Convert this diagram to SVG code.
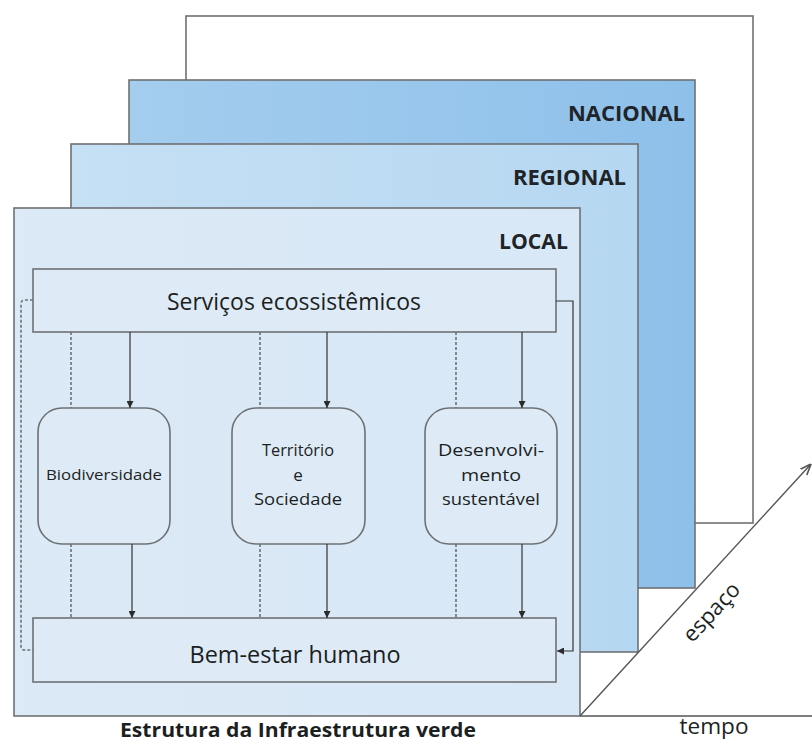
<svg xmlns="http://www.w3.org/2000/svg" width="812" height="744" viewBox="0 0 812 744">
<defs>
<linearGradient id="gNac" x1="0" y1="0" x2="1" y2="0"><stop offset="0" stop-color="#a4cdee"/><stop offset="1" stop-color="#8ec0ea"/></linearGradient>
<linearGradient id="gReg" x1="0" y1="0" x2="1" y2="0"><stop offset="0" stop-color="#c6e0f4"/><stop offset="1" stop-color="#b6d7f1"/></linearGradient>
<linearGradient id="gLoc" x1="0" y1="0" x2="1" y2="0"><stop offset="0" stop-color="#dce9f6"/><stop offset="1" stop-color="#d8e8f7"/></linearGradient>
<marker id="ah" viewBox="0 0 10 10" refX="10" refY="5" markerWidth="7" markerHeight="7" orient="auto" markerUnits="userSpaceOnUse"><path d="M0,0 L10,5 L0,10 z" fill="#2b2b2b"/></marker>
<marker id="ah2" viewBox="0 0 10 10" refX="10" refY="5" markerWidth="11" markerHeight="11" orient="auto" markerUnits="userSpaceOnUse"><path d="M0,1 L10,5 L0,9" fill="none" stroke="#555" stroke-width="1.5"/></marker>
</defs>
<style>
.lvl{stroke:#6e7174;stroke-width:1.6}
.box{fill:#deebf7;stroke:#6e7174;stroke-width:1.6}
.t{font-family:"Open Sans","DejaVu Sans",sans-serif;fill:#1c1f22}
.lab{font-family:"Open Sans","DejaVu Sans",sans-serif;font-weight:bold;font-size:22px;fill:#1f2428;text-anchor:end}
.sol{stroke:#333;stroke-width:1.2;fill:none;marker-end:url(#ah)}
.dot{stroke:#6e7174;stroke-width:1.6;stroke-dasharray:3 2;fill:none}
.ax{stroke:#555;stroke-width:1.4;fill:none}
</style>
<rect width="812" height="744" fill="#ffffff"/>
<g id="level-back"><rect x="186" y="16" width="567" height="507" fill="#ffffff" class="lvl"/></g>
<g id="level-nacional"><rect x="129" y="80" width="566" height="508" fill="url(#gNac)" class="lvl"/><text class="lab" x="685" y="121" textLength="117" lengthAdjust="spacingAndGlyphs">NACIONAL</text></g>
<g id="level-regional"><rect x="71" y="144" width="567" height="508" fill="url(#gReg)" class="lvl"/><text class="lab" x="626" y="185" textLength="113" lengthAdjust="spacingAndGlyphs">REGIONAL</text></g>
<g id="level-local"><rect x="14" y="208" width="566" height="508" fill="url(#gLoc)" class="lvl"/><text class="lab" x="568" y="249" textLength="69" lengthAdjust="spacingAndGlyphs">LOCAL</text></g>
<g id="servicos"><rect x="33" y="269" width="523" height="63" class="box"/><text class="t" x="294" y="310" font-size="23" text-anchor="middle" textLength="254" lengthAdjust="spacingAndGlyphs">Serviços ecossistêmicos</text></g>
<g id="biodiversidade"><rect x="38" y="408" width="132" height="136" rx="24" class="box"/><text class="t" x="104" y="480" font-size="15" text-anchor="middle" textLength="116" lengthAdjust="spacingAndGlyphs">Biodiversidade</text></g>
<g id="territorio"><rect x="232" y="408" width="133" height="136" rx="24" class="box"/><text class="t" font-size="17" text-anchor="middle"><tspan x="298" y="456" textLength="72" lengthAdjust="spacingAndGlyphs">Território</tspan><tspan x="298" y="481">e</tspan><tspan x="298" y="505" textLength="88" lengthAdjust="spacingAndGlyphs">Sociedade</tspan></text></g>
<g id="desenvolvimento"><rect x="425" y="408" width="132" height="136" rx="24" class="box"/><text class="t" font-size="17" text-anchor="middle"><tspan x="491" y="456" textLength="106" lengthAdjust="spacingAndGlyphs">Desenvolvi-</tspan><tspan x="491" y="481" textLength="60" lengthAdjust="spacingAndGlyphs">mento</tspan><tspan x="491" y="505" textLength="98" lengthAdjust="spacingAndGlyphs">sustentável</tspan></text></g>
<g id="bem-estar"><rect x="33" y="618" width="523" height="64" class="box"/><text class="t" x="295" y="663" font-size="23" text-anchor="middle" textLength="211" lengthAdjust="spacingAndGlyphs">Bem-estar humano</text></g>
<g id="connectors">
<path class="sol" d="M130,332 V408"/>
<path class="sol" d="M327,332 V408"/>
<path class="sol" d="M522,332 V408"/>
<path class="sol" d="M132,544 V618"/>
<path class="sol" d="M327,544 V618"/>
<path class="sol" d="M522,544 V618"/>
<path class="dot" d="M71,332 V408"/>
<path class="dot" d="M260,332 V408"/>
<path class="dot" d="M456,332 V408"/>
<path class="dot" d="M71,544 V618"/>
<path class="dot" d="M260,544 V618"/>
<path class="dot" d="M456,544 V618"/>
<path class="dot" d="M33,300 H25 Q21,300 21,304 V646 Q21,650 25,650 H33"/>
<path class="sol" d="M556,301 H573 V651 H557"/>
</g>
<g id="axes">
<path class="ax" d="M580,716 H812"/>
<path class="ax" d="M580,716 L811,464" marker-end="url(#ah2)"/>
<text class="t" x="717" y="617" font-size="22" text-anchor="middle" transform="rotate(-47 717 617)">espaço</text>
<text class="t" x="714" y="734" font-size="21" text-anchor="middle" textLength="69" lengthAdjust="spacingAndGlyphs">tempo</text>
</g>
<text class="t" x="298" y="737" font-size="20" font-weight="bold" text-anchor="middle" textLength="356" lengthAdjust="spacingAndGlyphs">Estrutura da Infraestrutura verde</text>
</svg>
